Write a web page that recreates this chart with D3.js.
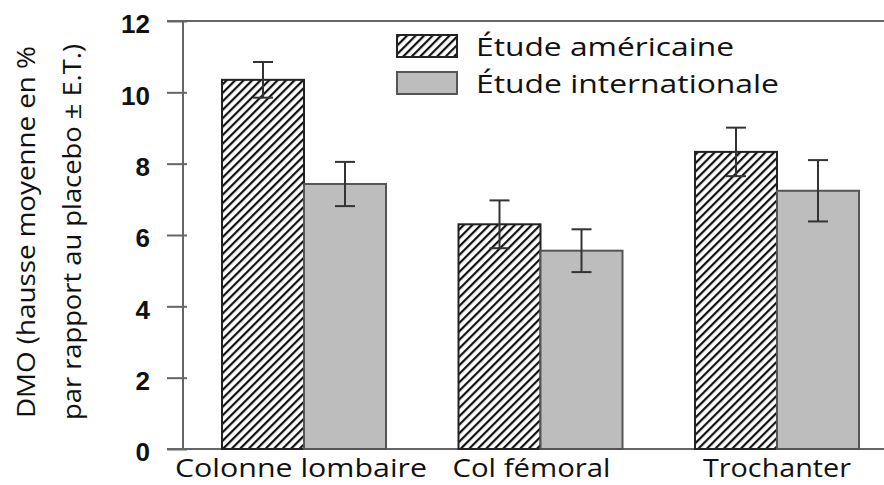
<!DOCTYPE html>
<html><head><meta charset="utf-8">
<script src="https://cdn.jsdelivr.net/npm/d3@7"></script>
<style>body{margin:0;background:#fff}</style>
</head><body>
<svg id="c" width="884" height="485"></svg>
<script>
const categories = ["Colonne lombaire", "Col fémoral", "Trochanter"];
const seriesNames = ["Étude américaine", "Étude internationale"];
const americaine = [10.35, 6.3, 8.33];
const americaineErr = [0.5, 0.67, 0.68];
const internationale = [7.43, 5.56, 7.24];
const internationaleErr = [0.62, 0.6, 0.86];
const yTicks = [0, 2, 4, 6, 8, 10, 12];

const svg = d3.select("#c");
const defs = svg.append("defs");
const P = 6;
const pat = defs.append("pattern").attr("id", "hatch").attr("patternUnits", "userSpaceOnUse")
  .attr("width", P).attr("height", P).attr("patternTransform", "rotate(45)");
pat.append("rect").attr("width", P).attr("height", P).attr("fill", "#fff");
pat.append("line").attr("x1", 0).attr("y1", 0).attr("x2", 0).attr("y2", P)
  .attr("stroke", "#111").attr("stroke-width", 4.4);

const y = d3.scaleLinear().domain([0, 12]).range([449, 21]);
const x0 = d3.scalePoint().domain(categories).range([304, 777]);
const x1 = d3.scaleBand().domain(seriesNames).range([-82, 82]).padding(0);

const axisX = 183;
svg.append("line").attr("x1", 167).attr("x2", 884).attr("y1", y(12)).attr("y2", y(12)).attr("stroke", "#666").attr("stroke-width", 2);
svg.append("line").attr("x1", 167).attr("x2", 884).attr("y1", y(0)).attr("y2", y(0)).attr("stroke", "#666").attr("stroke-width", 2);

const data = categories.map((c, i) => [
  {cat: c, s: seriesNames[0], v: americaine[i], e: americaineErr[i]},
  {cat: c, s: seriesNames[1], v: internationale[i], e: internationaleErr[i]}
]).flat();

svg.append("g").selectAll("rect").data(data).join("rect")
  .attr("x", d => x0(d.cat) + x1(d.s))
  .attr("y", d => y(d.v))
  .attr("width", x1.bandwidth())
  .attr("height", d => y(0) - y(d.v))
  .attr("fill", d => d.s === seriesNames[0] ? "url(#hatch)" : "#bdbdbd")
  .attr("stroke", d => d.s === seriesNames[0] ? "#222" : "#555")
  .attr("stroke-width", 2);

const eb = svg.append("g").attr("stroke", "#333").attr("stroke-width", 2);
data.forEach(d => {
  const cx = x0(d.cat) + x1(d.s) + x1.bandwidth() / 2;
  eb.append("line").attr("x1", cx).attr("x2", cx).attr("y1", y(d.v + d.e)).attr("y2", y(d.v - d.e));
  eb.append("line").attr("x1", cx - 10).attr("x2", cx + 10).attr("y1", y(d.v + d.e)).attr("y2", y(d.v + d.e));
  eb.append("line").attr("x1", cx - 10).attr("x2", cx + 10).attr("y1", y(d.v - d.e)).attr("y2", y(d.v - d.e));
});

const yAxis = d3.axisLeft(y).tickValues(yTicks).tickSize(16).tickPadding(18).tickFormat(d3.format("d"));
const ga = svg.append("g").attr("transform", `translate(${axisX},0)`).call(yAxis);
ga.select(".domain").attr("stroke", "#666").attr("stroke-width", 2).attr("d", `M0,${y(12)}V${y(0)}`);
ga.selectAll(".tick line").attr("stroke", "#666").attr("stroke-width", 2).attr("x2", 4).attr("x1", -16);
ga.selectAll(".tick text").attr("font-family", "Liberation Sans, Arial, sans-serif").attr("font-weight", "bold")
  .attr("font-size", 26).attr("fill", "#111").attr("x", -33).attr("dy", "0.45em");

const catLen = [252, 158, 148];
const catOff = [-3, -9, 0];
svg.append("g").selectAll("text").data(categories).join("text")
  .attr("x", (d, i) => x0(d) + catOff[i])
  .attr("y", 477)
  .attr("text-anchor", "middle")
  .attr("font-family", "Open Sans, sans-serif")
  .attr("font-size", 25)
  .attr("fill", "#111")
  .attr("textLength", (d, i) => catLen[i])
  .attr("lengthAdjust", "spacingAndGlyphs")
  .text(d => d);

const t = svg.append("text").attr("transform", "translate(0,232) rotate(-90)")
  .attr("text-anchor", "middle").attr("font-family", "Open Sans, sans-serif")
  .attr("font-size", 25).attr("fill", "#111");
t.append("tspan").attr("x", 0).attr("y", 35).attr("textLength", 372).attr("lengthAdjust", "spacingAndGlyphs").text("DMO (hausse moyenne en %");
t.append("tspan").attr("x", 0).attr("y", 81).attr("textLength", 376).attr("lengthAdjust", "spacingAndGlyphs").text("par rapport au placebo ± E.T.)");

const legLen = [258, 303];
const lg = svg.append("g");
seriesNames.forEach((s, i) => {
  lg.append("rect").attr("x", 397).attr("y", 35 + i * 37).attr("width", 60).attr("height", 22)
    .attr("fill", i === 0 ? "url(#hatch)" : "#bdbdbd").attr("stroke", i === 0 ? "#222" : "#555").attr("stroke-width", 2);
  lg.append("text").attr("x", 476).attr("y", 56 + i * 37).attr("font-family", "Open Sans, sans-serif")
    .attr("font-size", 25).attr("fill", "#111")
    .attr("textLength", legLen[i]).attr("lengthAdjust", "spacingAndGlyphs").text(s);
});
</script>
</body></html>
